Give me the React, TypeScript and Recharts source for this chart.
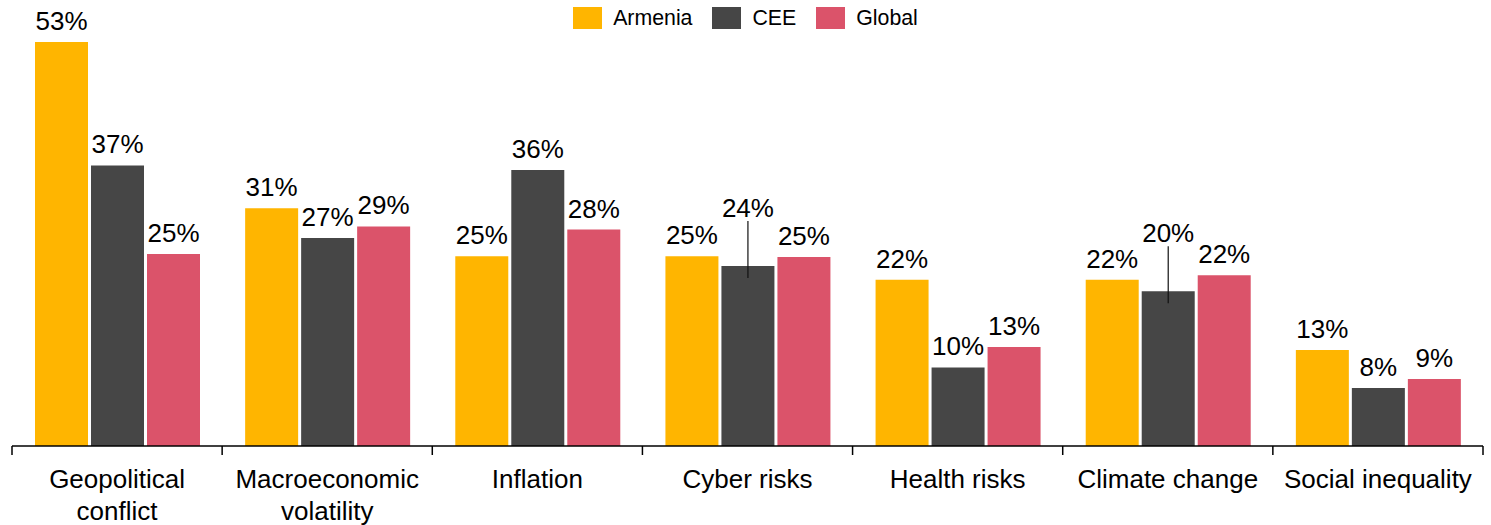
import React from 'react';
import { BarChart, Bar, XAxis, YAxis, LabelList, Legend } from 'recharts';

const categories = [
  'Geopolitical\nconflict',
  'Macroeconomic\nvolatility',
  'Inflation',
  'Cyber risks',
  'Health risks',
  'Climate change',
  'Social inequality',
];
const armenia = [53.0, 31.2, 24.9, 24.9, 21.8, 21.8, 12.6];
const cee = [36.8, 27.3, 36.2, 23.6, 10.3, 20.3, 7.6];
const global = [25.2, 28.8, 28.4, 24.8, 13.0, 22.4, 8.8];
const seriesNames = ['Armenia', 'CEE', 'Global'];
const seriesColors = ['#FFB500', '#464646', '#DB536A'];
const calloutCategories = ['Cyber risks', 'Climate change'];

const data = categories.map((c, i) => ({
  category: c,
  Armenia: armenia[i],
  CEE: cee[i],
  Global: global[i],
}));

const W = 1491;
const H = 525;
const MARGIN = { top: 42, right: 8, left: 12, bottom: 0 };
const BAND = (W - MARGIN.left - MARGIN.right) / categories.length;
const FONT = "Arial, 'Liberation Sans', sans-serif";

function CategoryTick(props: any) {
  const { x, y, payload, index } = props;
  const lines = String(payload.value).split('\n');
  const half = BAND / 2;
  const last = index === categories.length - 1;
  return (
    <g>
      <line x1={x - half} x2={x - half} y1={y} y2={y + 9} stroke="#000" strokeWidth={1.5} />
      {last && <line x1={x + half} x2={x + half} y1={y} y2={y + 9} stroke="#000" strokeWidth={1.5} />}
      <text x={x} y={y + 42} textAnchor="middle" fontSize={26} fontFamily={FONT} fill="#000">
        {lines.map((l, i) => (
          <tspan key={i} x={x} dy={i === 0 ? 0 : 31.5}>
            {l}
          </tspan>
        ))}
      </text>
    </g>
  );
}

function makeLabel(series: string) {
  return (props: any) => {
    const { x, y, width, value, index } = props;
    const cx = Number(x) + Number(width) / 2;
    const top = Number(y);
    const callout = series === 'CEE' && calloutCategories.includes(categories[index]);
    const ty = top - 12 - (callout ? 37 : 0);
    return (
      <g>
        <text x={cx} y={ty} textAnchor="middle" fontSize={26} fontFamily={FONT} fill="#000">
          {Math.round(Number(value))}%
        </text>
        {callout && (
          <line x1={cx} x2={cx} y1={ty + 4} y2={top + 12} stroke="#111" strokeWidth={1.2} />
        )}
      </g>
    );
  };
}

function LegendContent(props: any) {
  const { payload } = props;
  return (
    <div style={{ height: 0, overflow: 'visible', width: W }}>
      <div
        style={{
          display: 'flex',
          justifyContent: 'center',
          alignItems: 'center',
          paddingTop: 7,
          fontFamily: FONT,
          fontSize: 21.3,
          color: '#000',
        }}
      >
        {(payload || []).map((p: any, i: number) => (
          <div key={i} style={{ display: 'flex', alignItems: 'center', marginRight: i < payload.length - 1 ? 20 : 0 }}>
            <div style={{ width: 29, height: 22, background: p.color, marginRight: 11 }} />
            <span style={{ lineHeight: '22px' }}>{p.value}</span>
          </div>
        ))}
      </div>
    </div>
  );
}

export default function App() {
  return (
    <div style={{ position: 'absolute', left: 0, top: 0, width: W, height: H, background: '#fff' }}>
      <BarChart width={W} height={H} data={data} margin={MARGIN} barCategoryGap={23} barGap={3}>
        <XAxis
          dataKey="category"
          height={79}
          interval={0}
          tickLine={false}
          tickSize={0}
          tickMargin={0}
          axisLine={{ stroke: '#000', strokeWidth: 1.5 }}
          tick={<CategoryTick />}
        />
        <YAxis hide domain={[0, 53]} allowDataOverflow />
        <Legend
          verticalAlign="top"
          align="left"
          wrapperStyle={{ top: 0, left: 0, width: W, height: 0 }}
          content={<LegendContent />}
        />
        {seriesNames.map((s, i) => (
          <Bar
            key={s}
            dataKey={s}
            name={s}
            fill={seriesColors[i]}
            isAnimationActive={false}
          >
            <LabelList dataKey={s} content={makeLabel(s)} />
          </Bar>
        ))}
      </BarChart>
    </div>
  );
}
